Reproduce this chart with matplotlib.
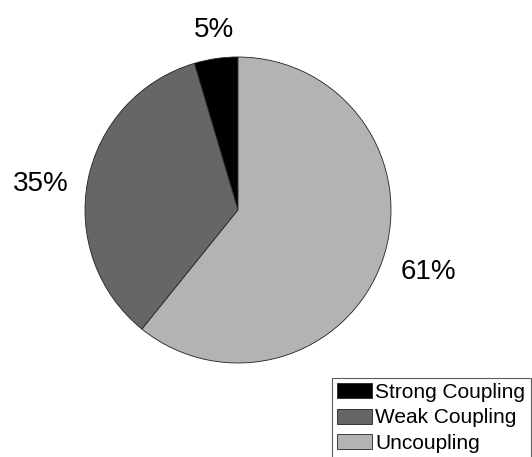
import numpy as np
import matplotlib
matplotlib.use("Agg")
import matplotlib.pyplot as plt

plt.rcParams['font.family'] = ['Liberation Sans', 'DejaVu Sans']

# data (percent of cases)
categories = ['Strong Coupling', 'Weak Coupling', 'Uncoupling']
shares = [4.6, 34.6, 60.8]
colours = ['#000000', '#666666', '#b3b3b3']

pct_labels = ['%d%%' % round(v) for v in shares]

fig = plt.figure(figsize=(5.32, 4.57), dpi=100)
# pie centre ~ (238, 210) px, radius ~153 px
ax = fig.add_axes([85 / 532, 1 - 363 / 457, 306 / 532, 306 / 457])

wedges, texts = ax.pie(shares, labels=pct_labels, colors=colours,
                       startangle=90, counterclock=True, labeldistance=1.1,
                       wedgeprops=dict(edgecolor='#222222', linewidth=0.6),
                       textprops=dict(fontsize=20))
ax.set_xlim(-1, 1)
ax.set_ylim(-1, 1)
ax.set_aspect('equal')

# place labels the way matlab does: alignment follows the slice angle
for w, t in zip(wedges, texts):
    ang = np.deg2rad((w.theta1 + w.theta2) / 2)
    s, c = np.sin(ang), np.cos(ang)
    if s > 0.7:
        t.set_ha('center'); t.set_va('bottom')
    elif s < -0.7:
        t.set_ha('center'); t.set_va('top')
    else:
        t.set_ha('left' if c > 0 else 'right'); t.set_va('center')
        # matlab puts the side labels a bit further out and lower
        x, y = t.get_position()
        t.set_position((x + 0.025 * np.sign(c), y - 0.04))

leg = fig.legend(wedges, categories, loc='upper left',
                 bbox_to_anchor=(332 / 532, 1 - 378 / 457),
                 fontsize=15, frameon=True, fancybox=False,
                 handlelength=1.68, handleheight=0.72, handletextpad=0.15,
                 labelspacing=0.3, borderpad=0.25, borderaxespad=0)
leg.get_frame().set_edgecolor('#333333')
leg.get_frame().set_linewidth(0.8)

fig.savefig('out.png', dpi=100)
